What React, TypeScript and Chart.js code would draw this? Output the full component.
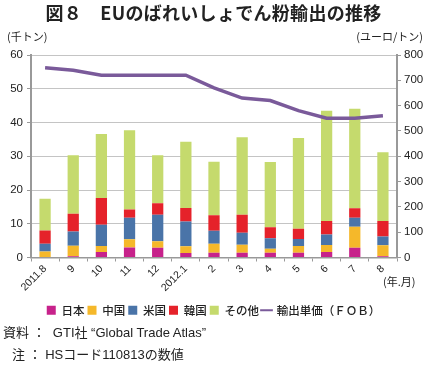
import React, { useEffect, useRef } from "react";
import { Chart, registerables } from "chart.js";

Chart.register(...registerables);

const categories = ["2011.8", "9", "10", "11", "12", "2012.1", "2", "3", "4", "5", "6", "7", "8"];
const japan = [0, 0.4, 1.6, 3.0, 2.9, 1.3, 1.4, 1.4, 1.4, 1.4, 1.6, 2.9, 0.4];
const china = [1.8, 3.1, 1.8, 2.4, 1.9, 2.0, 2.7, 2.4, 1.2, 2.0, 2.1, 6.2, 3.2];
const usa = [2.3, 4.2, 6.3, 6.4, 7.9, 7.4, 3.8, 3.5, 3.1, 2.1, 3.1, 2.7, 2.6];
const korea = [3.9, 5.3, 7.9, 2.4, 3.4, 4.0, 4.6, 5.4, 3.3, 3.0, 4.0, 2.8, 4.6];
const others = [9.4, 17.3, 19.0, 23.5, 14.2, 19.6, 15.9, 22.9, 19.3, 26.9, 32.7, 29.5, 20.4];
const unitPrice = [750, 740, 720, 720, 720, 720, 670, 630, 620, 580, 550, 550, 560];

const seriesNames = ["日本", "中国", "米国", "韓国", "その他"];
const lineName = "輸出単価（ＦＯＢ）";
const leftMax = 60;
const leftStep = 10;
const rightMax = 800;
const rightStep = 100;

const FONT = "'Liberation Sans', 'Noto Sans CJK JP', sans-serif";
const JFONT = "'Noto Sans CJK JP', sans-serif";

export default function App() {
  const ref = useRef<HTMLCanvasElement | null>(null);

  useEffect(() => {
    document.body.style.margin = "0";
    const canvas = ref.current;
    if (!canvas) return;
    const colors = ["#c7228b", "#f5b82a", "#4a74a8", "#e5222a", "#c5da6d"];
    const values = [japan, china, usa, korea, others];
    const barSets = values.map((v, i) => ({
      type: "bar" as const,
      label: seriesNames[i],
      data: v,
      backgroundColor: colors[i],
      borderWidth: 0,
      yAxisID: "y",
      stack: "s",
      order: 1,
      pointStyle: "rect",
      barPercentage: 0.5,
      categoryPercentage: 0.8,
    }));
    const defaultLabels = Chart.defaults.plugins.legend.labels.generateLabels;
    const chart = new Chart(canvas, {
      type: "bar",
      data: {
        labels: categories,
        datasets: [
          ...barSets,
          {
            type: "line" as const,
            label: lineName,
            data: unitPrice,
            borderColor: "#7a5a9a",
            backgroundColor: "#7a5a9a",
            borderWidth: 3.5,
            pointRadius: 0,
            tension: 0,
            yAxisID: "y1",
            order: 0,
            pointStyle: "line",
          } as any,
        ],
      },
      options: {
        animation: false,
        responsive: false,
        maintainAspectRatio: false,
        layout: { padding: { left: 4, right: 4, top: 55, bottom: 41 } },
        plugins: {
          tooltip: { enabled: false },
          title: { display: false },
          legend: {
            position: "bottom",
            labels: {
              usePointStyle: true,
              boxHeight: 9,
              boxWidth: 9,
              padding: 3,
              color: "#222",
              font: { family: JFONT, size: 11.5, weight: "500" },
              sort: (a: any, b: any) => a.datasetIndex - b.datasetIndex,
              generateLabels: (c: any) => {
                const items = defaultLabels(c);
                items.forEach((it: any) => {
                  if (it.pointStyle === "line") it.lineWidth = 2;
                });
                return items;
              },
            },
          },
        },
        scales: {
          x: {
            stacked: true,
            afterFit: (s: any) => { s.height = 44; },
            grid: { drawOnChartArea: false, offset: true, drawTicks: true, tickLength: 4, color: "#999" },
            border: { color: "#999", width: 1.5 },
            ticks: {
              color: "#222",
              font: { family: FONT, size: 10.5 },
              minRotation: 45,
              maxRotation: 45,
              padding: 1,
              autoSkip: false,
            },
          },
          y: {
            stacked: true,
            position: "left",
            min: 0,
            max: leftMax,
            afterFit: (s: any) => { s.width = 27; },
            ticks: { stepSize: leftStep, color: "#222", font: { family: FONT, size: 11.5 }, padding: 4 },
            grid: { color: "#c4c4c4", lineWidth: 1, tickLength: 4, tickColor: "#999" },
            border: { color: "#999", width: 2 },
          },
          y1: {
            position: "right",
            min: 0,
            max: rightMax,
            afterFit: (s: any) => { s.width = 26; },
            ticks: { stepSize: rightStep, color: "#222", font: { family: FONT, size: 11.5 }, padding: 3 },
            grid: { drawOnChartArea: false, tickLength: 4, color: "#999" },
            border: { color: "#999", width: 2 },
          },
        },
      } as any,
    });
    return () => chart.destroy();
  }, []);

  const abs = (o: React.CSSProperties): React.CSSProperties => ({
    position: "absolute",
    whiteSpace: "pre",
    fontFamily: JFONT,
    color: "#222",
    lineHeight: 1,
    ...o,
  });

  return (
    <div style={{ position: "relative", width: 427, height: 367, background: "#fff", overflow: "hidden" }}>
      <canvas ref={ref} width={427} height={367} style={{ position: "absolute", left: 0, top: 0, width: 427, height: 367 }} />
      <div style={abs({ left: 0, width: 427, top: 3, textAlign: "center", fontSize: 18, fontWeight: 700, letterSpacing: 0.3 })}>
        図８　EUのばれいしょでん粉輸出の推移
      </div>
      <div style={abs({ left: 7, top: 31, fontSize: 11 })}>(千トン)</div>
      <div style={abs({ right: 4, top: 31, fontSize: 11 })}>(ユーロ/トン)</div>
      <div style={abs({ left: 383, top: 276, fontSize: 11 })}>(年.月)</div>
      <div style={abs({ left: 3, top: 326, fontSize: 13, fontFamily: FONT })}>{"資料 ：  GTI社 “Global Trade Atlas”"}</div>
      <div style={abs({ left: 12, top: 348, fontSize: 13, fontFamily: FONT })}>{"注 ： HSコード110813の数値"}</div>
    </div>
  );
}
